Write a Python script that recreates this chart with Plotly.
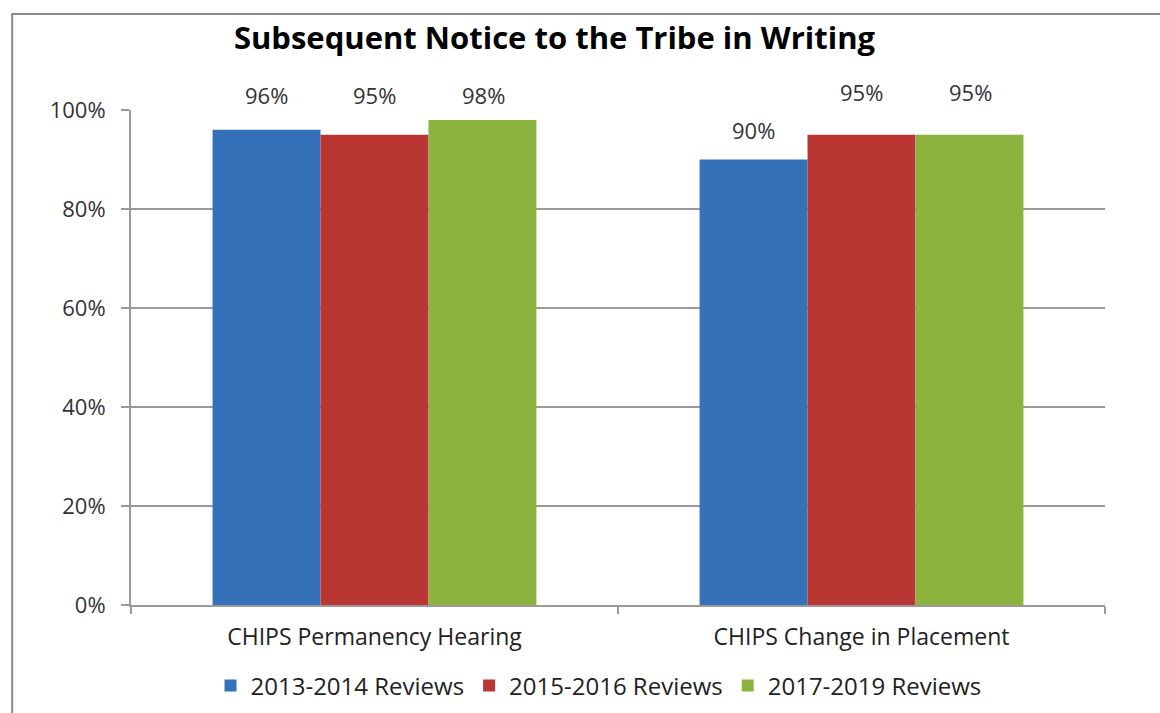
import plotly.graph_objects as go

categories = ["CHIPS Permanency Hearing", "CHIPS Change in Placement"]
series_names = ["2013-2014 Reviews", "2015-2016 Reviews", "2017-2019 Reviews"]
values_2013_2014 = [0.96, 0.90]
values_2015_2016 = [0.95, 0.95]
values_2017_2019 = [0.98, 0.95]
label_texts = [["96%", "90%"], ["95%", "95%"], ["98%", "95%"]]

colors = ["#3571B9", "#BA3633", "#8CB33E"]
label_shift = [[35, 30], [40, 43], [25, 43]]  # pixel offsets of data labels above bar tops

series_values = [values_2013_2014, values_2015_2016, values_2017_2019]
FONT = "Open Sans"

fig = go.Figure()
for name, vals, col in zip(series_names, series_values, colors):
    fig.add_trace(go.Bar(
        name=name, x=categories, y=vals,
        marker=dict(color=col, line=dict(width=0)),
    ))

# data labels
offsets = [-1, 0, 1]
for si, (vals, texts) in enumerate(zip(series_values, label_texts)):
    for ci, (v, t) in enumerate(zip(vals, texts)):
        fig.add_annotation(
            x=ci, y=v, xref="x", yref="y", text=t, showarrow=False,
            xshift=offsets[si] * 108.5, yshift=label_shift[si][ci],
            font=dict(family=FONT, size=22, color="#333333"),
            yanchor="middle",
        )

# outer chart frame
fig.add_shape(type="rect", xref="paper", yref="paper",
              x0=-0.122, x1=1.07, y0=-0.25, y1=1.194,
              line=dict(color="#8c8c8c", width=2), fillcolor="rgba(0,0,0,0)", layer="below")

fig.update_layout(
    width=1160, height=713,
    margin=dict(l=131, r=55, t=110, b=108, autoexpand=False),
    paper_bgcolor="white", plot_bgcolor="white",
    barmode="group", bargap=0.335, bargroupgap=0,
    title=dict(text="<b>Subsequent Notice to the Tribe in Writing</b>",
               x=0.478, xref="container", xanchor="center",
               y=1 - 38 / 713, yref="container", yanchor="middle",
               font=dict(family=FONT, size=31, color="#000000")),
    showlegend=True,
    legend=dict(orientation="h", x=0.48, xanchor="center",
                y=1 - 686 / 713, yref="container", yanchor="middle",
                font=dict(family=FONT, size=24, color="#222222"),
                itemwidth=30, traceorder="normal"),
    font=dict(family=FONT, color="#333333"),
)
fig.update_xaxes(
    showline=True, linecolor="#999999", linewidth=2,
    ticks="outside", tickson="boundaries", ticklen=7, tickcolor="#999999", tickwidth=2,
    tickfont=dict(family=FONT, size=23, color="#222222"),
    ticklabelstandoff=10, mirror=False, automargin=False,
)
fig.update_yaxes(
    range=[0, 1], tickvals=[0, 0.2, 0.4, 0.6, 0.8, 1.0],
    ticktext=["0%", "20%", "40%", "60%", "80%", "100%"],
    showgrid=True, gridcolor="#999999", gridwidth=1.5,
    showline=True, linecolor="#999999", linewidth=2,
    ticks="outside", ticklen=8, tickcolor="#999999", tickwidth=1.5,
    tickfont=dict(family=FONT, size=22, color="#333333"),
    zeroline=False, ticklabelstandoff=11, automargin=False,
)

fig.write_html("out.html", config={"displayModeBar": False},
               post_script="document.body.style.margin='0';")
